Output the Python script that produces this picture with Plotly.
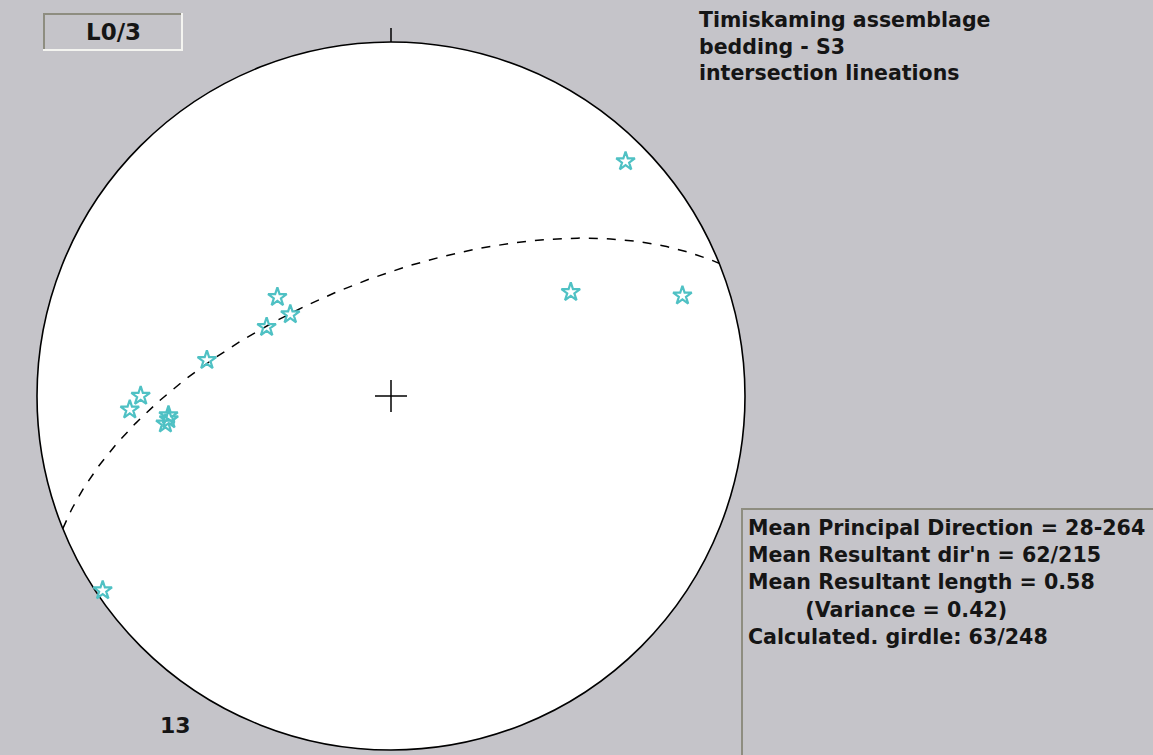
import numpy as np
import plotly.graph_objects as go

# ---- data ----
lin_trend = [45, 60, 71, 311, 299, 309, 281, 270, 267, 265, 263, 236, 264]
lin_plunge = [7, 41, 14, 55, 57, 60, 46, 30, 27, 37, 36, 2, 37]
girdle_strike = 248
girdle_dip = 63
title_lines = ["Timiskaming assemblage", "bedding - S3", "intersection lineations"]
stats_lines = ["Mean Principal Direction = 28-264",
               "Mean Resultant dir'n = 62/215",
               "Mean Resultant length = 0.58",
               "        (Variance = 0.42)",
               "Calculated. girdle: 63/248"]
panel_label = "L0/3"
count_label = "13"

W, H = 1153, 755
CX, CY, R = 391, 396, 354
BG = "#c5c4c9"


def project(trend, plunge):
    t = np.radians(np.asarray(trend, float))
    p = np.radians(np.asarray(plunge, float))
    r = np.sqrt(2) * np.sin((np.pi / 2 - p) / 2)
    return r * np.sin(t), r * np.cos(t)


def px(x):
    return x / W


def py(y):
    return 1 - y / H


# girdle great circle
rk = np.radians(np.linspace(0, 180, 181))
s = np.radians(girdle_strike)
dd = s + np.pi / 2
d = np.radians(girdle_dip)
sv = np.array([np.sin(s), np.cos(s), 0.0])
dv = np.array([np.cos(d) * np.sin(dd), np.cos(d) * np.cos(dd), np.sin(d)])
v = np.outer(np.cos(rk), sv) + np.outer(np.sin(rk), dv)
g_pl = np.degrees(np.arcsin(np.clip(v[:, 2], -1, 1)))
g_tr = np.degrees(np.arctan2(v[:, 0], v[:, 1]))
gx, gy = project(g_tr, g_pl)

lx, ly = project(lin_trend, lin_plunge)

fig = go.Figure()
fig.add_trace(go.Scatter(x=gx, y=gy, mode="lines",
                         line=dict(color="black", width=1.5, dash="dash"),
                         hoverinfo="skip", showlegend=False))
fig.add_trace(go.Scatter(x=lx, y=ly, mode="markers",
                         marker=dict(symbol="star-open", size=14, color="#4fc1c4",
                                     line=dict(width=2.2, color="#4fc1c4")),
                         showlegend=False))

xr = [(0 - CX) / R, (W - CX) / R]
yr = [(CY - H) / R, CY / R]

shapes = [
    dict(type="circle", xref="x", yref="y", x0=-1, y0=-1, x1=1, y1=1,
         fillcolor="white", line=dict(color="black", width=1.6), layer="below"),
    dict(type="line", xref="x", yref="y", x0=0, y0=1, x1=0, y1=1 + 14 / R,
         line=dict(color="black", width=1.5)),
    dict(type="line", xref="x", yref="y", x0=-16 / R, y0=0, x1=16 / R, y1=0,
         line=dict(color="black", width=1.5)),
    dict(type="line", xref="x", yref="y", x0=0, y0=-16 / R, x1=0, y1=16 / R,
         line=dict(color="black", width=1.5)),
    # L0/3 box
    dict(type="rect", xref="paper", yref="paper", x0=px(43), y0=py(51), x1=px(183), y1=py(13),
         fillcolor=BG, line=dict(width=0)),
    dict(type="line", xref="paper", yref="paper", x0=px(43), y0=py(14), x1=px(183), y1=py(14),
         line=dict(color="#8e8d80", width=2)),
    dict(type="line", xref="paper", yref="paper", x0=px(44), y0=py(13), x1=px(44), y1=py(51),
         line=dict(color="#8e8d80", width=2)),
    dict(type="line", xref="paper", yref="paper", x0=px(43), y0=py(50), x1=px(183), y1=py(50),
         line=dict(color="#f4f4f0", width=2)),
    dict(type="line", xref="paper", yref="paper", x0=px(182), y0=py(13), x1=px(182), y1=py(51),
         line=dict(color="#f4f4f0", width=2)),
    # stats box borders
    dict(type="line", xref="paper", yref="paper", x0=px(741), y0=py(509), x1=px(1153), y1=py(509),
         line=dict(color="#8e8d80", width=2)),
    dict(type="line", xref="paper", yref="paper", x0=px(742), y0=py(509), x1=px(742), y1=py(755),
         line=dict(color="#8e8d80", width=2)),
]

FONT = "DejaVu Sans"
annotations = []
for i, t in enumerate(title_lines):
    annotations.append(dict(xref="paper", yref="paper", x=px(697), y=py(20 + 26.5 * i),
                            text=f"<b>{t}</b>", showarrow=False, xanchor="left", yanchor="middle",
                            font=dict(family=FONT, size=20.5, color="#151515")))
for i, t in enumerate(stats_lines):
    annotations.append(dict(xref="paper", yref="paper", x=px(746), y=py(528 + 27.2 * i),
                            text="<b>" + t.replace(" ", "&nbsp;") + "</b>", showarrow=False,
                            xanchor="left", yanchor="middle",
                            font=dict(family=FONT, size=20.6, color="#151515")))
annotations.append(dict(xref="paper", yref="paper", x=px(113), y=py(32), text=f"<b>{panel_label}</b>",
                        showarrow=False, xanchor="center", yanchor="middle",
                        font=dict(family=FONT, size=23, color="#151515")))
annotations.append(dict(xref="paper", yref="paper", x=px(175), y=py(725), text=f"<b>{count_label}</b>",
                        showarrow=False, xanchor="center", yanchor="middle",
                        font=dict(family=FONT, size=22, color="#151515")))

fig.update_layout(
    width=W, height=H, autosize=False,
    margin=dict(l=0, r=0, t=0, b=0),
    paper_bgcolor=BG, plot_bgcolor=BG,
    xaxis=dict(range=xr, visible=False, fixedrange=True),
    yaxis=dict(range=yr, visible=False, fixedrange=True),
    shapes=shapes, annotations=annotations,
    showlegend=False,
)
fig.write_html("out.html", config={"displayModeBar": False},
               post_script="document.body.style.margin='0';document.body.style.overflow='hidden';")
